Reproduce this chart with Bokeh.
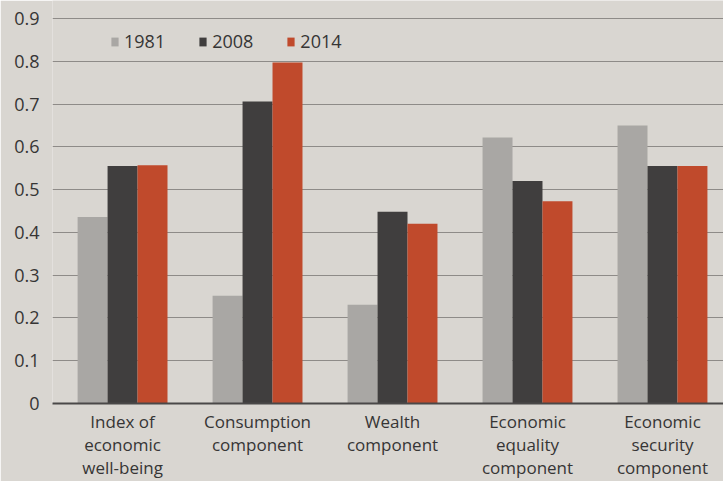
from bokeh.plotting import figure
from bokeh.models import ColumnDataSource, Range1d, FixedTicker, Legend, LegendItem
from bokeh.embed import file_html
from bokeh.resources import INLINE

categories = ["Index of\neconomic\nwell-being", "Consumption\ncomponent", "Wealth\ncomponent",
              "Economic\nequality\ncomponent", "Economic\nsecurity\ncomponent"]
years = ["1981", "2008", "2014"]
v1981 = [0.436, 0.252, 0.231, 0.622, 0.650]
v2008 = [0.555, 0.706, 0.448, 0.520, 0.555]
v2014 = [0.557, 0.797, 0.420, 0.473, 0.555]
y_ticks = [0, 0.1, 0.2, 0.3, 0.4, 0.5, 0.6, 0.7, 0.8, 0.9]
y_tick_labels = ["0", "0.1", "0.2", "0.3", "0.4", "0.5", "0.6", "0.7", "0.8", "0.9"]

colors = ["#a9a7a4", "#403e3e", "#c04a2c"]
bg = "#d9d6d1"
font = "Open Sans"
txt = "#363535"

idx = list(range(len(categories)))
bw = 0.222
src = ColumnDataSource(dict(
    x1=[i - bw for i in idx], x2=idx, x3=[i + bw for i in idx],
    v1981=v1981, v2008=v2008, v2014=v2014))

p = figure(width=723, height=481, output_backend="svg", toolbar_location=None,
           x_range=Range1d(-0.519, 4.452), y_range=Range1d(0, 0.942),
           min_border_left=52, min_border_right=0, min_border_top=0, min_border_bottom=77)
p.background_fill_color = bg
p.border_fill_color = bg
p.outline_line_color = None

r1 = p.vbar(x="x1", top="v1981", width=bw, source=src, fill_color=colors[0], line_color=None)
r2 = p.vbar(x="x2", top="v2008", width=bw, source=src, fill_color=colors[1], line_color=None)
r3 = p.vbar(x="x3", top="v2014", width=bw, source=src, fill_color=colors[2], line_color=None)

p.xgrid.grid_line_color = None
p.ygrid.grid_line_color = "#8e8b88"
p.ygrid.grid_line_width = 1
p.ygrid.ticker = FixedTicker(ticks=y_ticks[1:])

p.yaxis.ticker = FixedTicker(ticks=y_ticks)
p.yaxis.major_label_overrides = {t: l for t, l in zip(y_ticks, y_tick_labels)}
p.yaxis.axis_line_color = None
p.yaxis.major_tick_line_color = None
p.yaxis.minor_tick_line_color = None
p.yaxis.major_label_standoff = 7
p.yaxis.major_label_text_font = font
p.yaxis.major_label_text_font_size = "18px"
p.yaxis.major_label_text_color = txt

p.xaxis.ticker = FixedTicker(ticks=idx)
p.xaxis.major_label_overrides = {i: c for i, c in zip(idx, categories)}
p.xaxis.major_label_text_font = font
p.xaxis.major_label_text_font_size = "17px"
p.xaxis.major_label_text_line_height = 1.0
p.xaxis.major_label_text_color = txt
p.xaxis.axis_line_color = "#4a4848"
p.xaxis.axis_line_width = 2
p.xaxis.major_tick_line_color = None
p.xaxis.minor_tick_line_color = None
p.xaxis.major_label_standoff = 0

legend = Legend(items=[LegendItem(label=y, renderers=[r]) for y, r in zip(years, [r1, r2, r3])],
                orientation="horizontal", location=(58, 350),
                background_fill_alpha=0, border_line_color=None,
                glyph_width=9, glyph_height=11, label_standoff=5, spacing=33,
                padding=0, margin=0,
                label_text_font=font, label_text_font_size="18px", label_text_color=txt)
p.add_layout(legend, "center")

open("out.html", "w").write(file_html(p, INLINE))
